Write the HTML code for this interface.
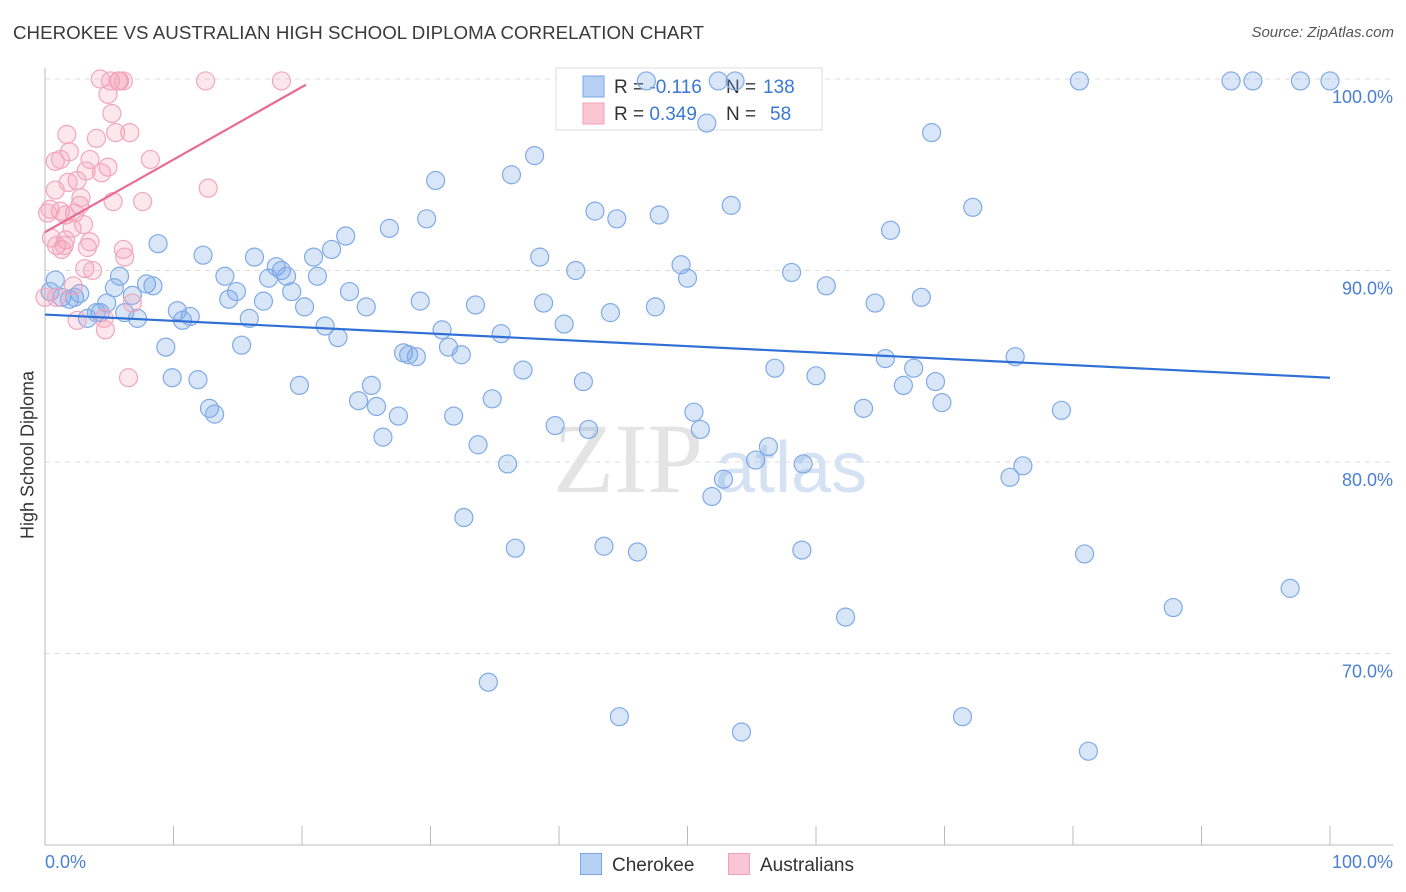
<!DOCTYPE html>
<html><head><meta charset="utf-8"><style>
body{margin:0;width:1406px;height:892px;background:#fff;font-family:"Liberation Sans",sans-serif;overflow:hidden;position:relative}
.t{position:absolute;white-space:nowrap}
</style></head><body>
<div class="t" style="left:13px;top:22px;font-size:18.7px;letter-spacing:0.05px;color:#3a3a3a">CHEROKEE VS AUSTRALIAN HIGH SCHOOL DIPLOMA CORRELATION CHART</div>
<div class="t" style="right:12px;top:24px;font-size:15px;color:#555;font-style:italic">Source: ZipAtlas.com</div>
<svg id="c" width="1406" height="892" style="position:absolute;left:0;top:0"></svg>
<script>
const blueX=[0.8,0.4,1.3,2.3,2.7,1.9,3.3,4.0,4.3,4.8,5.4,5.8,6.2,6.8,7.2,7.9,8.4,8.8,9.4,9.9,10.3,10.7,11.3,11.9,12.3,12.8,13.2,14.0,14.3,14.9,15.3,15.9,16.3,17.0,17.4,18.0,18.4,18.8,19.2,19.8,20.2,20.9,21.2,21.8,22.3,22.8,23.4,23.7,24.4,25.0,25.4,25.8,26.3,26.8,27.5,27.9,28.3,28.9,29.2,29.7,30.4,30.9,31.4,31.8,32.4,32.6,33.5,33.7,34.5,34.8,35.5,36.0,36.3,36.6,37.2,38.1,38.5,38.8,39.7,40.4,41.3,41.9,42.3,42.8,43.5,44.0,44.5,44.7,46.1,47.5,47.8,49.5,50.0,50.5,51.0,51.5,51.9,52.4,52.8,53.4,54.2,55.3,56.3,56.8,58.1,59.0,58.9,60.0,60.8,62.3,63.7,64.6,65.4,65.8,66.8,67.6,68.2,69.0,69.3,69.8,72.2,71.4,75.1,75.5,76.1,79.1,80.5,80.9,81.2,87.8,92.3,94.0,96.9,97.7,100,46.8,53.7];
const blueY=[89.5,88.9,88.6,88.6,88.8,88.5,87.5,87.8,87.8,88.3,89.1,89.7,87.8,88.7,87.5,89.3,89.2,91.4,86.0,84.4,87.9,87.4,87.6,84.3,90.8,82.8,82.5,89.7,88.5,88.9,86.1,87.5,90.7,88.4,89.6,90.2,90.0,89.7,88.9,84.0,88.1,90.7,89.7,87.1,91.1,86.5,91.8,88.9,83.2,88.1,84.0,82.9,81.3,92.2,82.4,85.7,85.6,85.5,88.4,92.7,94.7,86.9,86.0,82.4,85.6,77.1,88.2,80.9,68.5,83.3,86.7,79.9,95.0,75.5,84.8,96.0,90.7,88.3,81.9,87.2,90.0,84.2,81.7,93.1,75.6,87.8,92.7,66.7,75.3,88.1,92.9,90.3,89.6,82.6,81.7,97.7,78.2,99.9,79.1,93.4,65.9,80.1,80.8,84.9,89.9,79.9,75.4,84.5,89.2,71.9,82.8,88.3,85.4,92.1,84.0,84.9,88.6,97.2,84.2,83.1,93.3,66.7,79.2,85.5,79.8,82.7,99.9,75.2,64.9,72.4,99.9,99.9,73.4,99.9,99.9,99.9,99.9];
const pinkX=[0,0.4,0.8,0.8,1.2,0.5,0.9,1.3,1.6,1.7,1.9,2.1,2.3,2.2,2.5,2.7,2.8,3.0,3.1,3.2,3.3,3.5,3.7,4.0,4.3,4.4,4.6,4.9,5.1,5.2,5.3,5.5,5.7,5.8,6.1,6.1,6.2,6.5,6.6,6.8,7.6,8.2,12.7,12.5,18.4,4.7,1.2,0.2,1.6,1.8,2.5,3.5,4.9,0.9,1.5];
const pinkY=[88.6,93.2,94.2,95.7,95.8,91.7,91.3,91.1,91.6,97.1,96.2,92.2,93.0,89.2,94.7,93.4,93.8,92.4,90.1,95.2,91.2,91.5,90.0,96.9,100,95.1,87.5,99.2,99.9,98.2,93.6,97.2,99.9,99.9,99.9,91.1,90.7,84.4,97.2,88.3,93.6,95.8,94.3,99.9,99.9,86.9,93.1,93.0,92.9,94.6,87.4,95.8,95.4,88.6,91.3];
const blueTrend=[[0,87.7],[100,84.4]];
const pinkTrend=[[0,92.0],[20.3,99.7]];
const yTicks=[100,90,80,70];
const yTickLabels=["100.0%","90.0%","80.0%","70.0%"];
const NS="http://www.w3.org/2000/svg";
const svg=document.getElementById('c');
const X=v=>45+v*12.85, Y=v=>79+(100-v)*19.15;
function mk(t,a){const e=document.createElementNS(NS,t);for(const k in a)e.setAttribute(k,a[k]);svg.appendChild(e);return e;}
yTicks.forEach((v,i)=>{
 const g=mk('line',{x1:45,x2:1393,y1:Y(v),y2:Y(v),stroke:'#ddd','stroke-dasharray':'5,5'});
 
 
 const t=mk('text',{x:1393,y:Y(v)+24,'text-anchor':'end','font-size':18,fill:'#4a7fd4','font-family':'Liberation Sans, sans-serif'});
 t.textContent=yTickLabels[i];
 
 
});
const ya=mk('line',{x1:45,x2:45,y1:68,y2:845,stroke:'#bbb'});


const xa=mk('line',{x1:45,x2:1393,y1:845,y2:845,stroke:'#bbb'});


for(let k=1;k<=10;k++){const tk=mk('line',{x1:X(k*10),x2:X(k*10),y1:826,y2:845,stroke:'#bbb'});
 
 }
const w1=mk('text',{x:553,y:492,'font-size':100,fill:'#e4e4e4','font-family':'Liberation Serif, serif'});w1.textContent='ZIP';


const w2=mk('text',{x:715,y:492,'font-size':72,fill:'#d4e2f4','font-family':'Liberation Sans, sans-serif'});w2.textContent='atlas';


const lb=mk('rect',{x:556,y:68,width:266,height:62,fill:'#fff',stroke:'#ddd'});


[[0,'#b6d0f4','#7aa6e6','-0.116','138'],[1,'#fac6d4','#f0a0b8','0.349','58']].forEach(r=>{
 const y=86+r[0]*27;
 const s=mk('rect',{x:583,y:y-10,width:21,height:21,fill:r[1],stroke:r[2]});
 
 
 const t=mk('text',{x:614,y:y+7,'font-size':19,fill:'#333','font-family':'Liberation Sans, sans-serif'});
 t.innerHTML='R = <tspan fill="#3a78d4">'+r[3]+'</tspan>';
 
 
 const n=mk('text',{x:726,y:y+7,'font-size':19,fill:'#333','font-family':'Liberation Sans, sans-serif'});
 n.innerHTML='N = <tspan fill="#3a78d4" x="'+(r[0]?770:763)+'">'+r[4]+'</tspan>';
 
 
});
blueX.forEach((v,i)=>{const c=mk('circle',{cx:X(v),cy:Y(blueY[i]),r:9,fill:'rgba(120,165,230,0.28)',stroke:'#80aae6','stroke-width':1.2});
 
 });
pinkX.forEach((v,i)=>{const c=mk('circle',{cx:X(v),cy:Y(pinkY[i]),r:9,fill:'rgba(245,160,185,0.25)',stroke:'#f2a6be','stroke-width':1.2});
 
 });
const bl=mk('line',{x1:X(blueTrend[0][0]),y1:Y(blueTrend[0][1]),x2:X(blueTrend[1][0]),y2:Y(blueTrend[1][1]),stroke:'#2f6fd6','stroke-width':2.2});


const pl=mk('line',{x1:X(pinkTrend[0][0]),y1:Y(pinkTrend[0][1]),x2:X(pinkTrend[1][0]),y2:Y(pinkTrend[1][1]),stroke:'#e86b96','stroke-width':2.2});


</script>
<div class="t" style="left:28px;top:455px;font-size:18px;color:#333;transform:translate(-50%,-50%) rotate(-90deg)">High School Diploma</div>
<div class="t" style="left:45px;top:852px;font-size:18px;color:#4a7fd4">0.0%</div>
<div class="t" style="right:13px;top:852px;font-size:18px;color:#4a7fd4">100.0%</div>
<div class="t" style="left:580px;top:853px;font-size:19px;color:#333"><span style="display:inline-block;width:20px;height:20px;background:#b6d0f4;border:1px solid #7aa6e6;vertical-align:-4px;margin-right:10px"></span>Cherokee</div>
<div class="t" style="left:728px;top:853px;font-size:19px;color:#333"><span style="display:inline-block;width:20px;height:20px;background:#fac6d4;border:1px solid #f0a0b8;vertical-align:-4px;margin-right:10px"></span>Australians</div>
</body></html>
